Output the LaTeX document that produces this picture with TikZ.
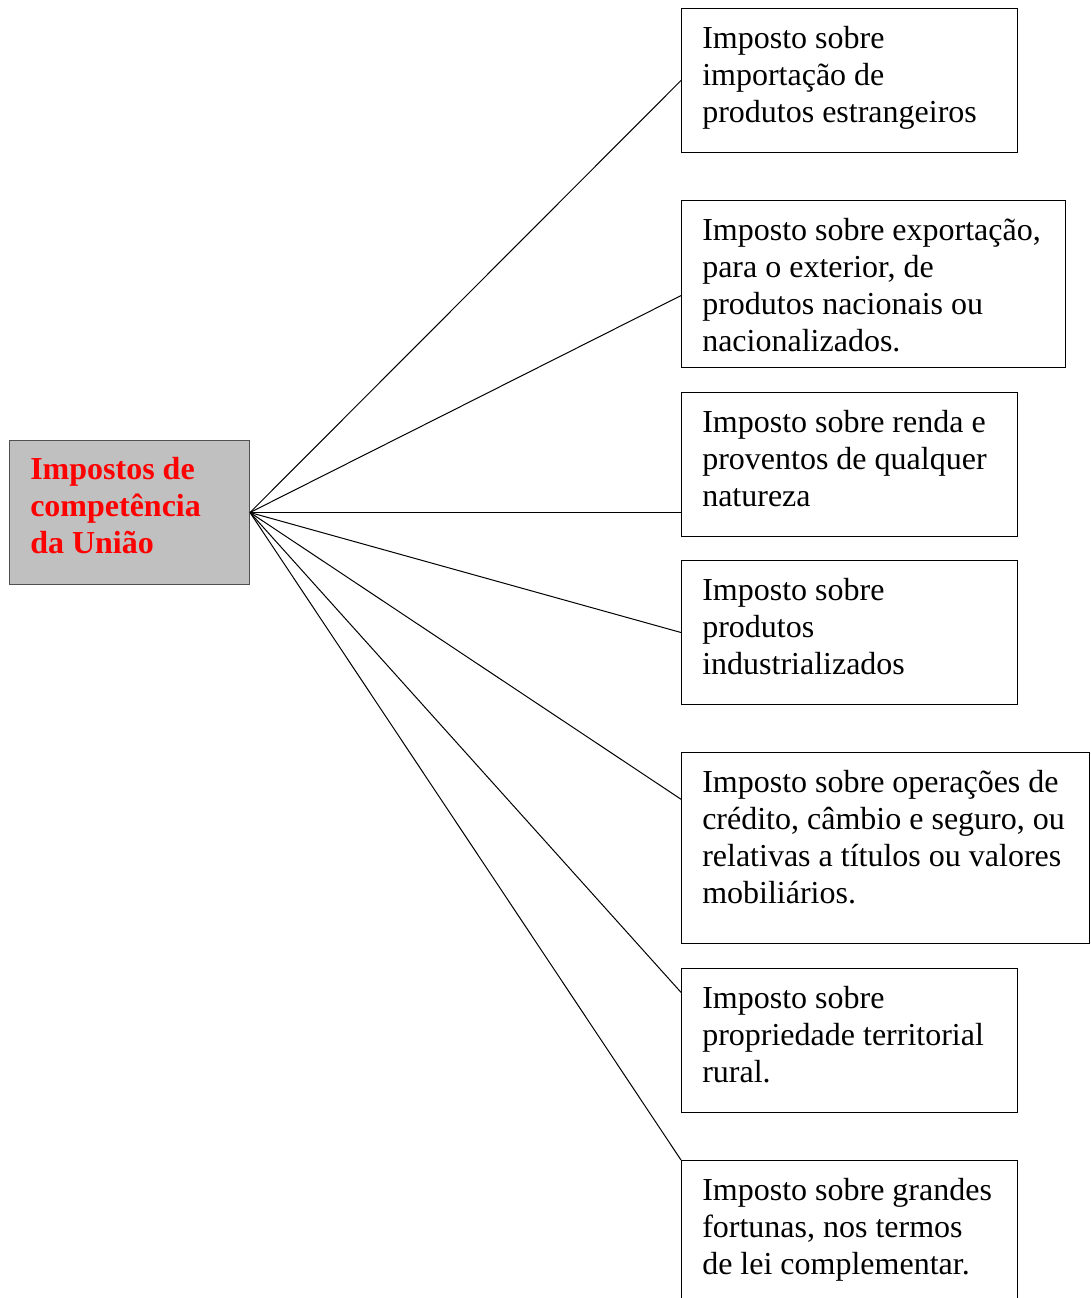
\documentclass[tikz,border=0pt]{standalone}
\usepackage{fontspec}
\setmainfont{Liberation Serif}
\usetikzlibrary{calc}
\definecolor{myrootfill}{HTML}{C0C0C0}
\definecolor{myrootedge}{HTML}{505050}
\definecolor{mytitlered}{HTML}{FF0000}
\tikzset{
  taxbox/.style={draw=black, line width=0.75pt, rectangle, anchor=north west, inner sep=0pt},
  taxtext/.style={anchor=north west, inner sep=0pt, align=left, font=\fontsize{24pt}{27.75pt}\selectfont},
  taxline/.style={draw=black, line width=0.75pt},
}

\begin{document}
\begin{tikzpicture}[x=0.75pt, y=-0.75pt]%
\useasboundingbox (0,0) rectangle (1090,1298);%
% caixa da esquerda
\node[taxbox, fill=myrootfill, draw=myrootedge, minimum width=180pt, minimum height=108pt] (root) at (9,440) {};%
\node[taxtext, text=mytitlered, font=\fontsize{24pt}{27.75pt}\selectfont\bfseries] (roottxt) at ($(root.north west)+(21,17)$) {Impostos de\\competência\\da União};%
% caixas da direita
\node[taxbox, minimum width=252pt, minimum height=108pt] (b1) at (681,8) {};%
\node[taxtext] (t1) at ($(b1.north west)+(21,18)$) {Imposto sobre\\importação de\\produtos estrangeiros};%
\node[taxbox, minimum width=288pt, minimum height=125.25pt] (b2) at (681,200) {};%
\node[taxtext] (t2) at ($(b2.north west)+(21,18)$) {Imposto sobre exportação,\\para o exterior, de\\produtos nacionais ou\\nacionalizados.};%
\node[taxbox, minimum width=252pt, minimum height=108pt] (b3) at (681,392) {};%
\node[taxtext] (t3) at ($(b3.north west)+(21,18)$) {Imposto sobre renda e\\proventos de qualquer\\natureza};%
\node[taxbox, minimum width=252pt, minimum height=108pt] (b4) at (681,560) {};%
\node[taxtext] (t4) at ($(b4.north west)+(21,18)$) {Imposto sobre\\produtos\\industrializados};%
\node[taxbox, minimum width=306pt, minimum height=143.25pt] (b5) at (681,752) {};%
\node[taxtext] (t5) at ($(b5.north west)+(21,18)$) {Imposto sobre operações de\\crédito, câmbio e seguro, ou\\relativas a títulos ou valores\\mobiliários.};%
\node[taxbox, minimum width=252pt, minimum height=108pt] (b6) at (681,968) {};%
\node[taxtext] (t6) at ($(b6.north west)+(21,18)$) {Imposto sobre\\propriedade territorial\\rural.};%
\node[taxbox, minimum width=252pt, minimum height=108pt] (b7) at (681,1160) {};%
\node[taxtext] (t7) at ($(b7.north west)+(21,18)$) {Imposto sobre grandes\\fortunas, nos termos\\de lei complementar.};%
% ligacoes
\draw[taxline] (root.east) -- (b1.west);%
\draw[taxline] (root.east) -- ($(b2.north west)!0.569!(b2.south west)$);%
\draw[taxline] (root.east) -- (b3.west |- root.east);%
\draw[taxline] (root.east) -- (b4.west);%
\draw[taxline] (root.east) -- ($(b5.north west)!0.246!(b5.south west)$);%
\draw[taxline] (root.east) -- ($(b6.north west)!0.168!(b6.south west)$);%
\draw[taxline] (root.east) -- (b7.north west);%
\end{tikzpicture}
\end{document}
